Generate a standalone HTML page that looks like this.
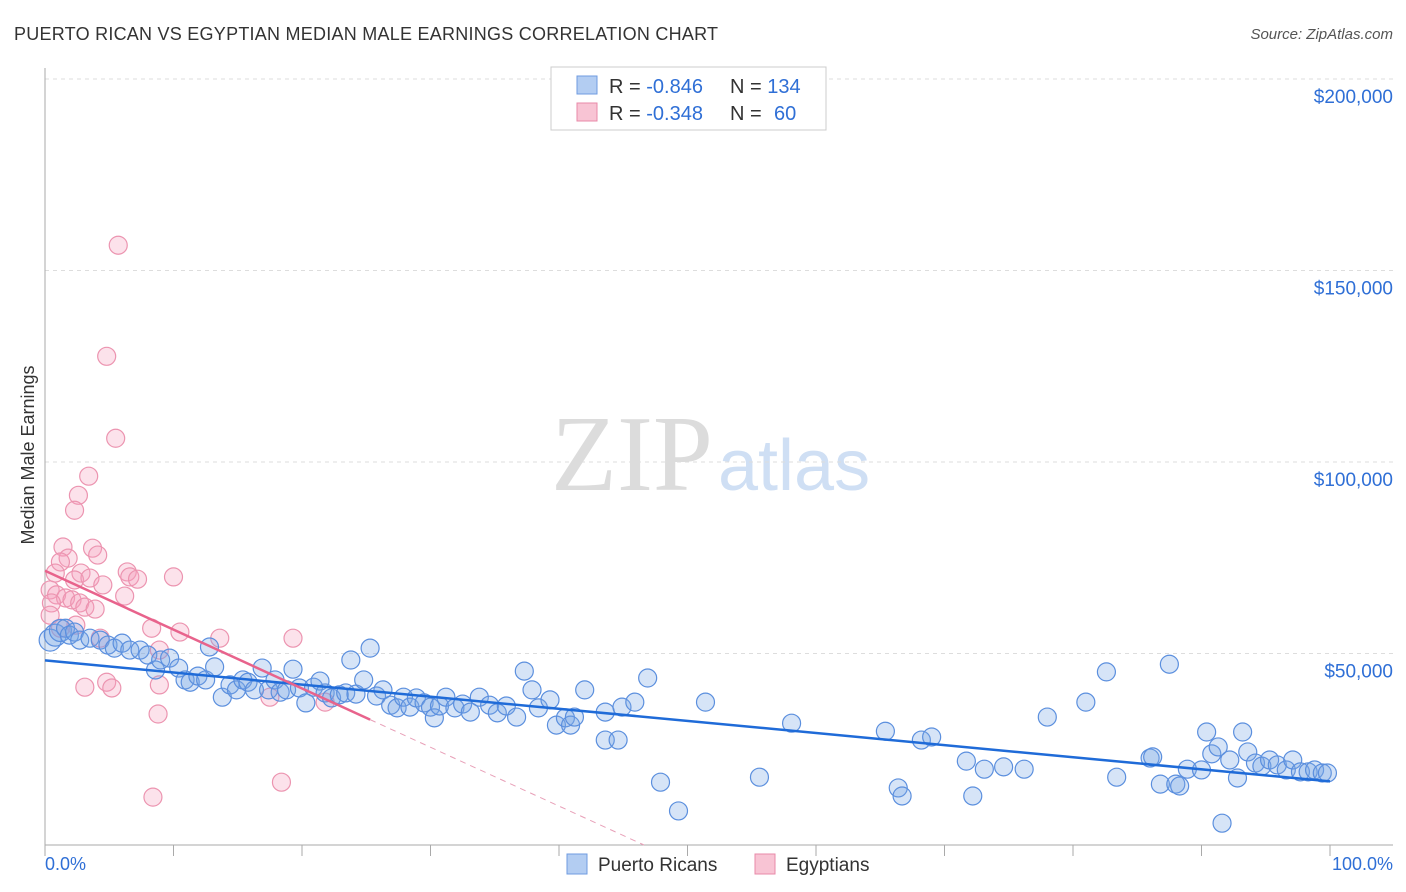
<!DOCTYPE html>
<html><head><meta charset="utf-8">
<style>
body{margin:0;background:#fff;font-family:"Liberation Sans",sans-serif;}
svg{display:block}
</style></head>
<body>
<svg id="chart" width="1406" height="892">
<text x="14" y="40" font-size="18" fill="#333" textLength="704">PUERTO RICAN VS EGYPTIAN MEDIAN MALE EARNINGS CORRELATION CHART</text>
<text x="1393" y="39" font-size="15" fill="#555" font-style="italic" text-anchor="end">Source: ZipAtlas.com</text>
<text x="713" y="490" font-size="108" fill="#dcdcdc" font-family="Liberation Serif,serif" text-anchor="end">ZIP</text>
<text x="718" y="490" font-size="72" fill="#cfdff4">atlas</text>
<text transform="translate(34,455) rotate(-90)" font-size="18" fill="#333" text-anchor="middle">Median Male Earnings</text>
<g id="grid"></g><g id="axes"></g><g id="pink"></g><g id="blue"></g><g id="lines"></g>
<g>
<rect x="551" y="67" width="275" height="63" fill="#fff" stroke="#ccc"/>
<rect x="577" y="76" width="20" height="18" fill="#b3cdf2" stroke="#6f9be0"/>
<rect x="577" y="103" width="20" height="18" fill="#f8c4d4" stroke="#e88aa8"/>
<text x="609" y="93" font-size="20" fill="#333">R = <tspan fill="#2f6fd6">-0.846</tspan></text>
<text x="730" y="93" font-size="20" fill="#333">N = <tspan fill="#2f6fd6">134</tspan></text>
<text x="609" y="120" font-size="20" fill="#333">R = <tspan fill="#2f6fd6">-0.348</tspan></text>
<text x="730" y="120" font-size="20" fill="#333">N = <tspan x="774" fill="#2f6fd6">60</tspan></text>
</g>
<g>
<rect x="567" y="854" width="20" height="20" fill="#b3cdf2" stroke="#6f9be0"/>
<text x="598" y="871" font-size="19" fill="#333">Puerto Ricans</text>
<rect x="755" y="854" width="20" height="20" fill="#f8c4d4" stroke="#e88aa8"/>
<text x="786" y="871" font-size="19" fill="#333">Egyptians</text>
</g>
<text x="45" y="870" font-size="18" fill="#2f6fd6">0.0%</text>
<text x="1393" y="870" font-size="18" fill="#2f6fd6" text-anchor="end">100.0%</text>
</svg>
<script>
const yTicks=[50000,100000,150000,200000];
const yTickLabels=["$50,000","$100,000","$150,000","$200,000"];
const blueX=[0.4,0.8,1.2,1.6,1.9,2.3,2.7,3.5,4.3,4.9,5.4,6,6.6,7.4,8,8.6,9,9.7,10.4,10.9,11.3,11.9,12.5,12.8,13.2,13.8,14.4,14.9,15.4,15.8,16.3,16.9,17.4,17.9,18.3,18.8,19.3,19.8,20.3,20.9,21.4,21.8,22.3,22.9,23.4,23.8,24.2,24.8,25.3,25.8,26.3,26.9,27.4,27.9,28.4,28.9,29.5,30,30.3,30.7,31.2,31.9,32.5,33.1,33.8,34.6,35.2,35.9,36.7,37.3,37.9,38.4,39.3,39.8,40.5,40.9,41.2,42,43.6,43.6,44.6,44.9,45.9,46.9,47.9,49.3,51.4,55.6,58.1,65.4,66.4,66.7,68.2,69,71.7,72.2,73.1,74.6,76.2,78,81,82.6,83.4,86,86.2,86.8,87.5,88,88.3,88.9,90,90.4,90.8,91.3,91.6,92.2,92.8,93.2,93.6,94.2,94.7,95.3,95.9,96.6,97.1,97.7,98.3,98.8,99.4,99.8];
const blueY=[53.5,54.8,56,56.6,54.8,55.6,53.5,54,53.5,52.2,51.4,52.7,50.9,50.9,49.6,45.7,48.3,48.8,46.2,43.1,42.5,44.1,43.1,51.7,46.5,38.6,41.8,40.5,43.1,42.5,40.5,46.2,40.5,43.1,39.9,40.5,45.9,41,37.1,41.2,42.8,39.7,38.4,39.2,39.7,48.3,39.4,43.1,51.4,38.9,40.5,36.5,35.8,38.6,36,38.4,37.1,36,33.2,36.3,38.6,35.8,36.8,34.7,38.6,36.5,34.5,36.3,33.4,45.4,40.5,35.8,37.9,31.3,33.2,31.3,33.4,40.5,34.7,27.4,27.4,36,37.3,43.6,16.4,8.9,37.3,17.7,31.8,29.7,14.9,12.8,27.4,28.2,21.9,12.8,19.8,20.4,19.8,33.4,37.3,45.2,17.7,22.7,23,15.9,47.2,15.9,15.4,19.8,19.6,29.5,23.8,25.6,5.7,22.2,17.5,29.5,24.3,21.4,20.6,22.2,20.9,19.6,22.2,19.1,19.1,19.6,18.8,18.8];
const pinkX=[5.7,4.8,5.5,3.4,2.6,2.3,1.4,3.7,4.1,1.8,1.2,2.8,6.4,6.6,0.8,2.3,3.5,7.2,10,4.5,0.4,0.9,1.6,2.1,6.2,0.5,2.7,3.1,3.9,0.4,2.4,8.3,10.5,13.6,19.3,4.3,8.9,3.1,4.8,5.2,8.9,8.8,8.4,18.4,17.5,21.8,1.2];
const pinkY=[156.6,127.6,106.2,96.3,91.3,87.4,77.8,77.5,75.7,74.9,73.9,71,71.3,70,71,69.2,69.7,69.4,70,67.9,66.6,65.3,64.5,64,65,63.2,63.2,62.1,61.6,60,57.4,56.6,55.6,54,54,54,50.9,41.2,42.5,41,41.8,34.2,12.5,16.4,38.6,37.3,56.6];
const blueFit=[48.2,16.6];
const pinkFit=[71.6,-82];
const NS="http://www.w3.org/2000/svg";
const X=v=>45+v*12.85;
const Y=v=>845-v*1000/261.1;
function mk(tag,attrs,parent){const e=document.createElementNS(NS,tag);for(const k in attrs)e.setAttribute(k,attrs[k]);document.getElementById(parent).appendChild(e);return e;}
yTicks.forEach((t,i)=>{
  const l=mk('line',{x1:45,x2:1393,y1:Y(t/1000),y2:Y(t/1000),stroke:'#ddd','stroke-dasharray':'4,4'},'grid');
  
  
  const tx=mk('text',{x:1393,y:Y(t/1000)+24,'font-size':19,fill:'#2f6fd6','text-anchor':'end'},'grid');
  tx.textContent=yTickLabels[i];
  
  
});
const ax=mk('line',{x1:45,x2:45,y1:68,y2:845,stroke:'#aaa'},'axes');


const bx=mk('line',{x1:45,x2:1393,y1:845,y2:845,stroke:'#aaa'},'axes');


for(let i=0;i<=10;i++){
  const t=mk('line',{x1:X(i*10),x2:X(i*10),y1:845,y2:856,stroke:'#aaa'},'axes');
  
  
}
pinkX.forEach((x,i)=>{
  const c=mk('circle',{cx:X(x),cy:Y(pinkY[i]),r:9,fill:'rgba(244,160,188,0.3)',stroke:'#ec94b0','stroke-width':1.2},'pink');
  
  
});
blueX.forEach((x,i)=>{
  const c=mk('circle',{cx:X(x),cy:Y(blueY[i]),r:i<3?11:9,fill:'rgba(120,165,230,0.3)',stroke:'#5b8fde','stroke-width':1.2},'blue');
  
  
});
const pv=x=>pinkFit[0]+(pinkFit[1]-pinkFit[0])*x/100;
const bl=mk('line',{x1:X(0),y1:Y(blueFit[0]),x2:X(100),y2:Y(blueFit[1]),stroke:'#1f6bd8','stroke-width':2.5},'lines');


const pl=mk('line',{x1:X(0),y1:Y(pv(0)),x2:X(25.3),y2:Y(pv(25.3)),stroke:'#e8638c','stroke-width':2.5},'lines');


const zx=-pinkFit[0]*100/(pinkFit[1]-pinkFit[0]);
const pd=mk('line',{x1:X(25.3),y1:Y(pv(25.3)),x2:X(zx),y2:Y(0),stroke:'#e8a0b8','stroke-width':1,'stroke-dasharray':'6,5'},'lines');


</script>
</body></html>
